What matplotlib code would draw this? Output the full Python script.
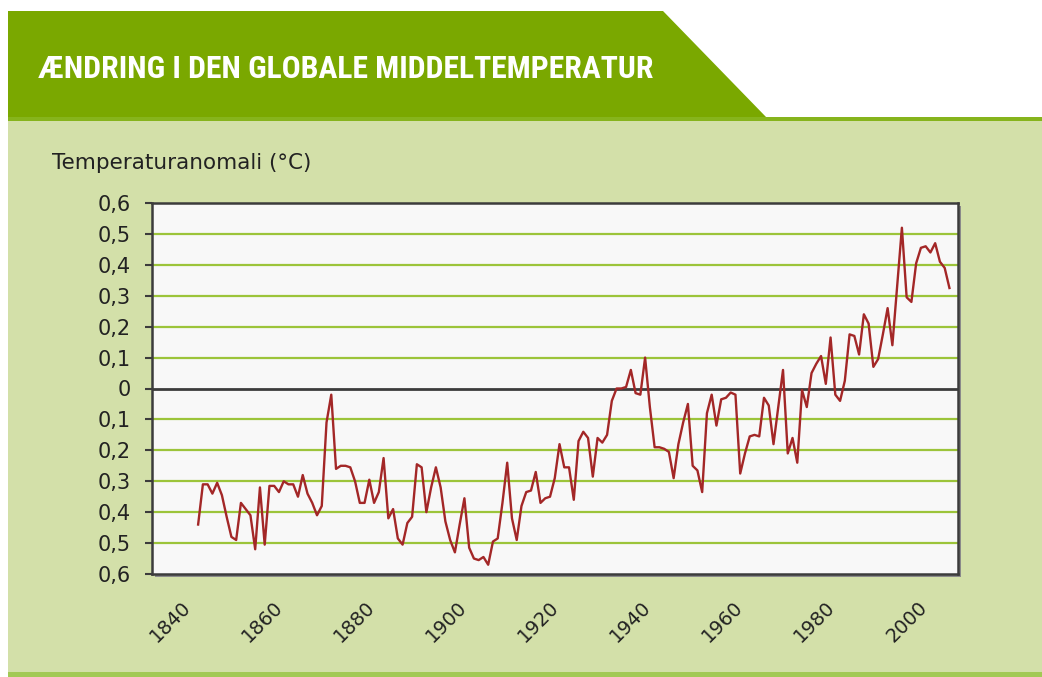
import matplotlib
matplotlib.use('agg')
import matplotlib.pyplot as plt
from matplotlib.patches import Polygon, Rectangle

# global temperature anomaly (deg C)
years = list(range(1850, 2009))
anomaly = [
    -0.44, -0.31, -0.31, -0.34, -0.305, -0.345, -0.415, -0.48, -0.49, -0.37,    # 1850s
    -0.39, -0.41, -0.52, -0.32, -0.505, -0.315, -0.315, -0.335, -0.30, -0.31,   # 1860s
    -0.31, -0.35, -0.28, -0.34, -0.37, -0.41, -0.38, -0.11, -0.02, -0.26,       # 1870s
    -0.25, -0.25, -0.255, -0.30, -0.37, -0.37, -0.295, -0.37, -0.335, -0.225,   # 1880s
    -0.42, -0.39, -0.485, -0.505, -0.435, -0.415, -0.245, -0.255, -0.40, -0.32, # 1890s
    -0.255, -0.32, -0.43, -0.49, -0.53, -0.44, -0.355, -0.515, -0.55, -0.555,   # 1900s
    -0.545, -0.57, -0.495, -0.485, -0.37, -0.24, -0.42, -0.49, -0.38, -0.335,   # 1910s
    -0.33, -0.27, -0.37, -0.355, -0.35, -0.29, -0.18, -0.255, -0.255, -0.36,    # 1920s
    -0.17, -0.14, -0.16, -0.285, -0.16, -0.175, -0.15, -0.04, 0.00, 0.00,       # 1930s
    0.005, 0.06, -0.015, -0.02, 0.10, -0.06, -0.19, -0.19, -0.195, -0.205,      # 1940s
    -0.29, -0.18, -0.11, -0.05, -0.25, -0.265, -0.335, -0.08, -0.02, -0.12,     # 1950s
    -0.035, -0.03, -0.013, -0.02, -0.275, -0.21, -0.155, -0.15, -0.155, -0.03,  # 1960s
    -0.055, -0.18, -0.06, 0.06, -0.21, -0.16, -0.24, -0.005, -0.06, 0.05,       # 1970s
    0.08, 0.105, 0.015, 0.165, -0.02, -0.04, 0.025, 0.175, 0.17, 0.11,          # 1980s
    0.24, 0.21, 0.07, 0.095, 0.175, 0.26, 0.14, 0.33, 0.52, 0.295,              # 1990s
    0.28, 0.405, 0.455, 0.46, 0.44, 0.47, 0.41, 0.39, 0.325,                    # 2000s
]

y_ticks = [-0.6, -0.5, -0.4, -0.3, -0.2, -0.1, 0, 0.1, 0.2, 0.3, 0.4, 0.5, 0.6]
x_labels = ['1840', '1860', '1880', '1900', '1920', '1940', '1960', '1980', '2000']

title = 'ÆNDRING I DEN GLOBALE MIDDELTEMPERATUR'
ylabel = 'Temperaturanomali (°C)'

header_green = '#7aa800'
panel_green = '#d3e0a9'
grid_green = '#9cc43a'
line_red = '#a32727'
frame_grey = '#3c3c3c'
text_col = '#222222'

W, H = 1042, 677
fig = plt.figure(figsize=(W / 100, H / 100), dpi=100)
fig.patch.set_facecolor('white')

# background decoration in pixel coordinates
bg = fig.add_axes([0, 0, 1, 1])
bg.set_xlim(0, W)
bg.set_ylim(H, 0)
bg.axis('off')
bg.add_patch(Rectangle((8, 121), W - 8, 552, color=panel_green, lw=0))
bg.add_patch(Polygon([(8, 11), (663, 11), (767, 118), (8, 118)], closed=True,
                     color=header_green, lw=0))
bg.add_patch(Rectangle((8, 117), W - 8, 4, color='#86b41c', lw=0))
bg.add_patch(Rectangle((8, 672), W - 8, 5, color='#a2c955', lw=0))
# shadow behind the plot frame
bg.add_patch(Rectangle((155, 206), 806, 371, color='#8a8a8a', lw=0))

bg.text(38, 69, title, color='white', fontsize=22.8, fontweight='bold',
        fontstretch='condensed', family=['Roboto Condensed', 'Roboto'],
        va='center', ha='left')
bg.text(52, 163, ylabel, color=text_col, fontsize=15.5, va='center', ha='left')

# main chart
ax = fig.add_axes([152 / W, (H - 574) / H, (958 - 152) / W, (574 - 203) / H])
ax.set_facecolor('#f8f8f8')
ax.set_ylim(-0.6, 0.6)
ax.set_xlim(1840.3, 2009.8)

for v in y_ticks:
    if v == 0:
        ax.axhline(v, color=frame_grey, lw=2, zorder=2)
    elif abs(v) < 0.6:
        ax.axhline(v, color=grid_green, lw=1.6, zorder=1)

ax.plot(years, anomaly, color=line_red, lw=1.7, zorder=3)

ax.set_yticks(y_ticks)
ax.set_yticklabels([('%.1f' % abs(v)).replace('.', ',') if v != 0 else '0' for v in y_ticks])
ax.tick_params(axis='y', length=5, width=1.5, color=frame_grey, pad=10,
               labelsize=15, labelcolor=text_col)

# the category labels sit slightly off the year scale in the original
label_pos = [1844.1 + i * 19.37 for i in range(len(x_labels))]
ax.set_xticks(label_pos)
ax.set_xticklabels(x_labels, rotation=45, ha='center')
ax.tick_params(axis='x', length=0, pad=17, labelsize=14, labelcolor=text_col)

for side in ['left', 'top', 'right', 'bottom']:
    ax.spines[side].set_color(frame_grey)
    ax.spines[side].set_linewidth(1.8)

fig.savefig('out.png', dpi=100, facecolor=fig.get_facecolor())
